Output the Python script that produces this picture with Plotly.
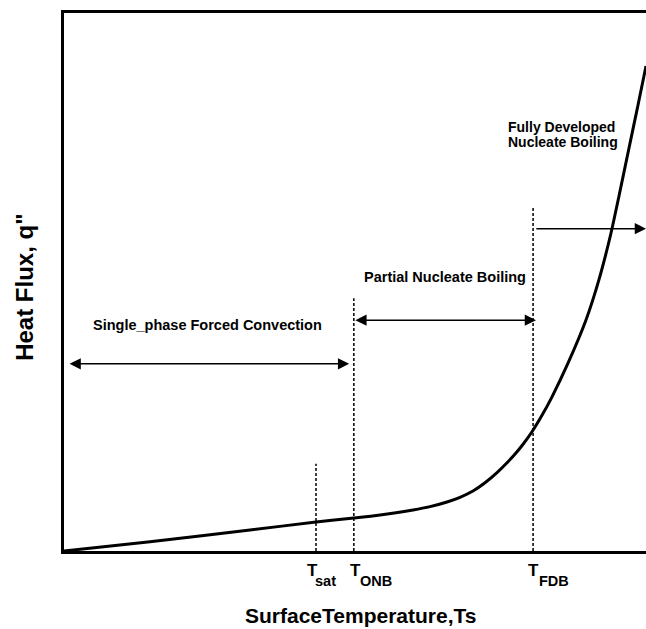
import plotly.graph_objects as go

# ---- data (schematic units: x 0..100 surface temperature, y 0..100 heat flux) ----
curve_x = [0, 14.78, 31.96, 43.30, 49.83, 54.30, 59.97, 62.89, 65.81, 68.04, 70.27,
           72.34, 74.40, 76.12, 77.84, 79.04, 80.41, 82.13, 83.85, 86.60, 89.69,
           91.92, 93.99, 95.36, 97.08, 98.63, 100.0]
curve_y = [0, 1.71, 3.90, 5.39, 6.13, 6.69, 7.62, 8.25, 9.11, 9.98, 11.15,
           12.68, 14.57, 16.39, 18.44, 20.07, 22.16, 25.22, 28.66, 34.91, 42.94,
           50.43, 59.11, 65.99, 74.91, 82.90, 90.15]

marker_main = ["T", "T", "T"]
marker_sub = ["sat", "ONB", "FDB"]
marker_x = [43.3, 49.8, 80.6]
marker_top = [16.2, 47.0, 63.8]

region_names = ["Single_phase Forced Convection", "Partial Nucleate Boiling"]
region_label_x = [24.7, 65.5]
region_label_y = [42.0, 50.9]
arrow_start = [0.7, 49.8, 80.9]
arrow_end = [49.0, 81.1, 100.0]
arrow_y = [34.8, 42.9, 59.9]
arrow_double = [True, True, False]

fd_lines = ["Fully Developed", "Nucleate Boiling"]
fd_x = 75.9
fd_y = [78.8, 76.0]

x_title = "SurfaceTemperature,Ts"
y_title = 'Heat Flux, q"'

FONT = "Liberation Sans, Arial, Helvetica, sans-serif"

fig = go.Figure()

# boiling curve
fig.add_trace(go.Scatter(x=curve_x, y=curve_y, mode="lines",
                         line=dict(color="black", width=3, shape="spline", smoothing=0.6),
                         hoverinfo="skip", showlegend=False))

# dotted marker lines
for xv, top in zip(marker_x, marker_top):
    fig.add_trace(go.Scatter(x=[xv, xv], y=[0, top], mode="lines",
                             line=dict(color="black", width=1.5, dash="3px,2px"),
                             hoverinfo="skip", showlegend=False))

annotations = []

# arrows
for xs, xe, ya, dbl in zip(arrow_start, arrow_end, arrow_y, arrow_double):
    annotations.append(dict(
        x=xe, y=ya, ax=xs, ay=ya, xref="x", yref="y", axref="x", ayref="y",
        text="", showarrow=True, arrowhead=2, arrowsize=1.5, arrowwidth=1.5,
        arrowcolor="black", arrowside="end+start" if dbl else "end",
        startarrowhead=2, startarrowsize=1.5, standoff=0, startstandoff=0))

# region labels
for name, lx, ly in zip(region_names, region_label_x, region_label_y):
    annotations.append(dict(x=lx, y=ly, xref="x", yref="y", text=name, showarrow=False,
                            xanchor="center", yanchor="middle",
                            font=dict(family=FONT, size=14.5, color="black", weight="bold")))

for line, ly in zip(fd_lines, fd_y):
    annotations.append(dict(x=fd_x, y=ly, xref="x", yref="y", text=line, showarrow=False,
                            xanchor="left", yanchor="middle",
                            font=dict(family=FONT, size=14, color="black", weight="bold")))

# tick-like labels T_sat, T_ONB, T_FDB
t_shift = [-3.5, 2.0, 0.0]
sub_shift = [9.8, 22.6, 20.5]
for main, sub, xv, ts, ss in zip(marker_main, marker_sub, marker_x, t_shift, sub_shift):
    annotations.append(dict(x=xv, y=-0.036, xref="x", yref="paper", text=main, showarrow=False,
                            xanchor="center", yanchor="middle", xshift=ts, borderpad=0,
                            font=dict(family=FONT, size=17, color="black", weight="bold")))
    annotations.append(dict(x=xv, y=-0.056, xref="x", yref="paper", text=sub, showarrow=False,
                            xanchor="center", yanchor="middle", xshift=ss, borderpad=0,
                            font=dict(family=FONT, size=14.5, color="black", weight="bold")))

# axis titles
annotations.append(dict(x=0.5086, y=-0.119, xref="paper", yref="paper", text=x_title,
                        showarrow=False, xanchor="center", yanchor="middle",
                        font=dict(family=FONT, size=21, color="black", weight="bold")))
annotations.append(dict(x=-0.069, y=0.4907, xref="paper", yref="paper", text=y_title,
                        showarrow=False, xanchor="center", yanchor="middle", textangle=-90,
                        font=dict(family=FONT, size=24, color="black", weight="bold")))

fig.update_layout(
    width=646, height=629,
    margin=dict(l=64, r=0, t=13, b=78),
    paper_bgcolor="white", plot_bgcolor="white",
    showlegend=False,
    annotations=annotations,
    xaxis=dict(range=[0, 100], showgrid=False, zeroline=False, showticklabels=False,
               ticks="", showline=True, linewidth=3, linecolor="black", mirror=True,
               fixedrange=True),
    yaxis=dict(range=[0, 100], showgrid=False, zeroline=False, showticklabels=False,
               ticks="", showline=True, linewidth=3, linecolor="black", mirror=False,
               fixedrange=True),
)

fig.write_html("out.html", config={"displayModeBar": False})
